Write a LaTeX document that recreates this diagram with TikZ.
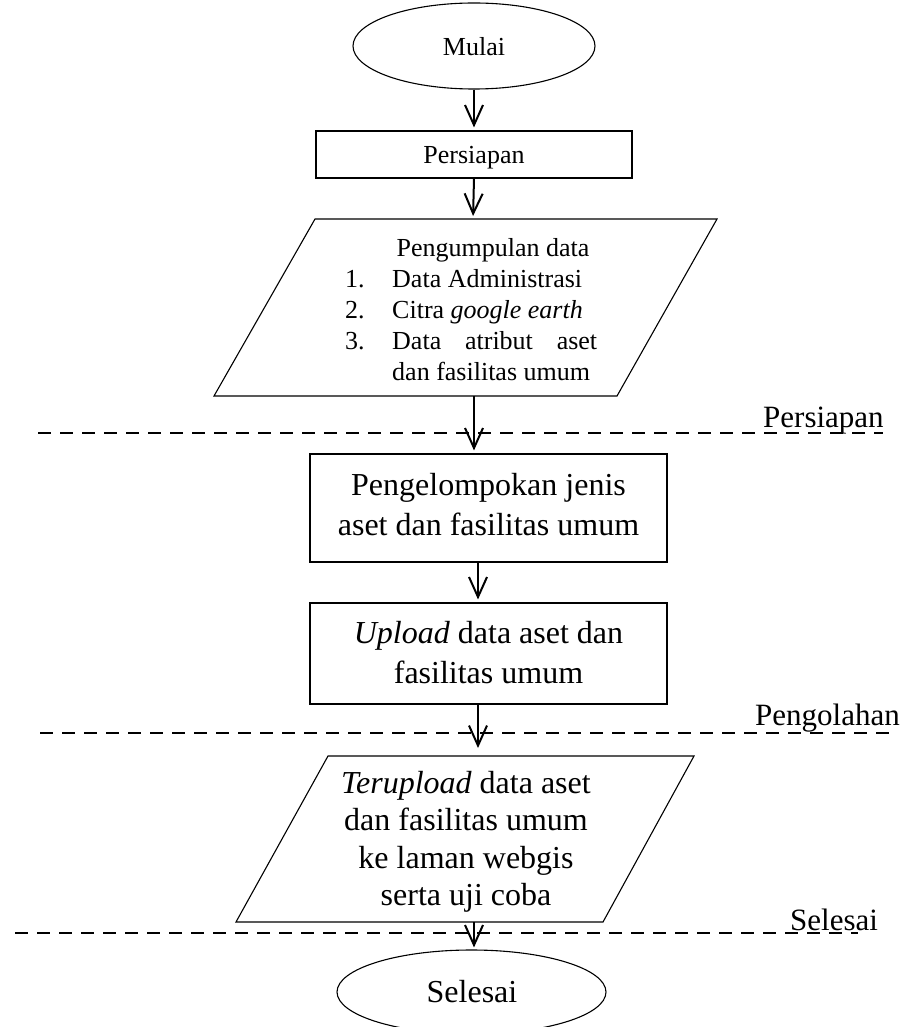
\documentclass[tikz,border=0pt]{standalone}
\usepackage{fontspec}
\setmainfont{Liberation Serif}
\usetikzlibrary{arrows.meta,shapes.geometric}
\begin{document}
\begin{tikzpicture}[x=1pt,y=-1pt,
  outline/.style={draw,line width=1.1pt},
  small/.style={font=\fontsize{26}{31}\selectfont, inner sep=0pt},
  big/.style={font=\fontsize{32}{37}\selectfont, inner sep=0pt},
  lab/.style={font=\fontsize{31}{36}\selectfont, inner sep=0pt},
  flow/.style={line width=2pt,shorten >=3pt,-{Straight Barb[length=20pt,width=18pt,line width=2pt]}},
  sep/.style={dash pattern=on 13pt off 9pt, line width=2pt},
  ]
\useasboundingbox (0,0) rectangle (907,1027);

% start ellipse
\node[outline,ellipse,minimum width=242pt,minimum height=86pt,inner sep=0pt] (start) at (474,46) {};
\node[small,anchor=base] (tstart) at (474,56) {Mulai};

% Persiapan box
\node[outline,rectangle,minimum width=316pt,minimum height=47pt,inner sep=0pt] (prep) at (474,154.5) {};
\node[small,anchor=base] (tprep) at (474,164) {Persiapan};

% data collection parallelogram
\coordinate (d1) at (315,219);
\coordinate (d2) at (717,219);
\coordinate (d3) at (617,396);
\coordinate (d4) at (214,396);
\coordinate (dn) at (473,219);
\coordinate (ds) at (474,396);
\draw[outline] (d1) -- (d2) -- (d3) -- (d4) -- cycle;
\node[small,anchor=base] (t0) at (493,256) {Pengumpulan data};
\node[small,anchor=base west] (n1) at (345,287) {1.};
\node[small,anchor=base west] (i1) at (392,287) {Data Administrasi};
\node[small,anchor=base west] (n2) at (345,318) {2.};
\node[small,anchor=base west] (i2) at (392,318) {Citra \textit{google earth}};
\node[small,anchor=base west] (n3) at (345,349) {3.};
\node[small,anchor=base west] (i3) at (392,349) {\makebox[205pt][s]{Data atribut aset}};
\node[small,anchor=base west] (i3b) at (392,380) {dan fasilitas umum};

% grouping box
\node[outline,rectangle,minimum width=357pt,minimum height=108pt,inner sep=0pt] (group) at (488.5,508) {};
\node[big,anchor=base] (tg1) at (488.5,495) {Pengelompokan jenis};
\node[big,anchor=base] (tg2) at (488.5,535) {aset dan fasilitas umum};

% upload box
\node[outline,rectangle,minimum width=357pt,minimum height=101pt,inner sep=0pt] (upload) at (488.5,653.5) {};
\node[big,anchor=base] (tu1) at (488.5,643) {\textit{Upload} data aset dan};
\node[big,anchor=base] (tu2) at (488.5,683) {fasilitas umum};

% uploaded parallelogram
\coordinate (e1) at (328,756);
\coordinate (e2) at (694,756);
\coordinate (e3) at (603,922);
\coordinate (e4) at (236,922);
\coordinate (en) at (478,756);
\coordinate (es) at (474,922);
\draw[outline] (e1) -- (e2) -- (e3) -- (e4) -- cycle;
\node[big,anchor=base] (tr1) at (466,793) {\textit{Terupload} data aset};
\node[big,anchor=base] (tr2) at (466,830) {dan fasilitas umum};
\node[big,anchor=base] (tr3) at (466,868) {ke laman webgis};
\node[big,anchor=base] (tr4) at (466,905) {serta uji coba};

% end ellipse
\node[outline,ellipse,minimum width=269pt,minimum height=84pt,inner sep=0pt] (stop) at (471.5,992) {};
\node[big,anchor=base] (tstop) at (472,1002) {Selesai};

% connectors
\draw[flow] (start.south) -- (prep.north);
\draw[flow] (prep.south) -- (dn);
\draw[flow] (ds) -- (ds |- group.north);
\draw[flow] ([xshift=-10.5pt]group.south) -- ([xshift=-10.5pt]upload.north);
\draw[flow,shorten >=8pt] ([xshift=-10.5pt]upload.south) -- (en);
\draw[flow,shorten >=2pt] (es) -- (es |- stop.north);

% phase separators
\coordinate (s1a) at (38,433);  \coordinate (s1b) at (883,433);
\coordinate (s2a) at (40,733);  \coordinate (s2b) at (890,733);
\coordinate (s3a) at (15,933);  \coordinate (s3b) at (858,933);
\draw[sep] (s1a) -- (s1b);
\draw[sep] (s2a) -- (s2b);
\draw[sep] (s3a) -- (s3b);
\node[lab,anchor=base west] (l1) at (763,427) {Persiapan};
\node[lab,anchor=base west] (l2) at (755,725) {Pengolahan};
\node[lab,anchor=base west] (l3) at (790,930) {Selesai};
\end{tikzpicture}
\end{document}
